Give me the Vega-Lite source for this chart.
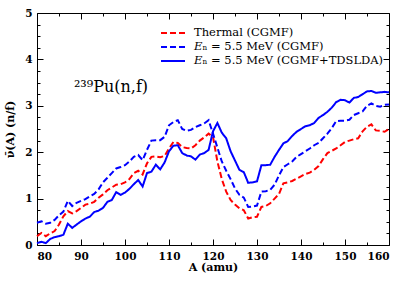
{
"$schema": "https://vega.github.io/schema/vega-lite/v6.json",
"width": 352, "height": 232,
"autosize": "none",
"padding": {"left": 37, "top": 13, "right": 20, "bottom": 41},
"config": {
  "view": {"stroke": "black", "strokeWidth": 1},
  "font": "DejaVu Serif",
  "axis": {"domain": false, "grid": false, "tickColor": "black", "tickWidth": 1, "labelColor": "black", "labelFont": "DejaVu Serif", "labelFontSize": 10.5, "labelFontWeight": "bold", "titleFont": "DejaVu Serif", "titleFontSize": 11, "titleFontWeight": "bold", "titleColor": "black"}
},
"datasets": {
"main": [
{"s":"T","A":80,"v":0.19},{"s":"T","A":81,"v":0.26},{"s":"T","A":82,"v":0.19},{"s":"T","A":83,"v":0.25},{"s":"T","A":84,"v":0.30},{"s":"T","A":85,"v":0.44},{"s":"T","A":86,"v":0.62},{"s":"T","A":87,"v":0.73},{"s":"T","A":88,"v":0.68},{"s":"T","A":89,"v":0.73},
{"s":"T","A":90,"v":0.80},{"s":"T","A":91,"v":0.87},{"s":"T","A":92,"v":0.89},{"s":"T","A":93,"v":0.93},{"s":"T","A":94,"v":1.02},{"s":"T","A":95,"v":1.09},{"s":"T","A":96,"v":1.18},{"s":"T","A":97,"v":1.24},{"s":"T","A":98,"v":1.30},{"s":"T","A":99,"v":1.31},
{"s":"T","A":100,"v":1.35},{"s":"T","A":101,"v":1.42},{"s":"T","A":102,"v":1.55},{"s":"T","A":103,"v":1.60},{"s":"T","A":104,"v":1.52},{"s":"T","A":105,"v":1.76},{"s":"T","A":106,"v":1.90},{"s":"T","A":107,"v":1.91},{"s":"T","A":108,"v":1.89},{"s":"T","A":109,"v":1.92},
{"s":"T","A":110,"v":2.08},{"s":"T","A":111,"v":2.22},{"s":"T","A":112,"v":2.20},{"s":"T","A":113,"v":2.11},{"s":"T","A":114,"v":2.09},{"s":"T","A":115,"v":2.08},{"s":"T","A":116,"v":2.15},{"s":"T","A":117,"v":2.25},{"s":"T","A":118,"v":2.32},{"s":"T","A":119,"v":2.40},
{"s":"T","A":120,"v":2.33},{"s":"T","A":121,"v":1.80},{"s":"T","A":122,"v":1.42},{"s":"T","A":123,"v":1.15},{"s":"T","A":124,"v":0.97},{"s":"T","A":125,"v":0.87},{"s":"T","A":126,"v":0.79},{"s":"T","A":127,"v":0.75},{"s":"T","A":128,"v":0.57},{"s":"T","A":129,"v":0.60},
{"s":"T","A":130,"v":0.61},{"s":"T","A":131,"v":0.82},{"s":"T","A":132,"v":0.84},{"s":"T","A":133,"v":0.90},{"s":"T","A":134,"v":1.00},{"s":"T","A":135,"v":1.10},{"s":"T","A":136,"v":1.33},{"s":"T","A":137,"v":1.35},{"s":"T","A":138,"v":1.38},{"s":"T","A":139,"v":1.43},
{"s":"T","A":140,"v":1.48},{"s":"T","A":141,"v":1.53},{"s":"T","A":142,"v":1.56},{"s":"T","A":143,"v":1.62},{"s":"T","A":144,"v":1.70},{"s":"T","A":145,"v":1.85},{"s":"T","A":146,"v":1.98},{"s":"T","A":147,"v":2.03},{"s":"T","A":148,"v":2.08},{"s":"T","A":149,"v":2.15},
{"s":"T","A":150,"v":2.22},{"s":"T","A":151,"v":2.25},{"s":"T","A":152,"v":2.28},{"s":"T","A":153,"v":2.30},{"s":"T","A":154,"v":2.45},{"s":"T","A":155,"v":2.55},{"s":"T","A":156,"v":2.60},{"s":"T","A":157,"v":2.47},{"s":"T","A":158,"v":2.46},{"s":"T","A":159,"v":2.44},{"s":"T","A":160,"v":2.50},
{"s":"C","A":80,"v":0.48},{"s":"C","A":81,"v":0.51},{"s":"C","A":82,"v":0.46},{"s":"C","A":83,"v":0.48},{"s":"C","A":84,"v":0.54},{"s":"C","A":85,"v":0.64},{"s":"C","A":86,"v":0.72},{"s":"C","A":87,"v":0.95},{"s":"C","A":88,"v":0.84},{"s":"C","A":89,"v":0.91},
{"s":"C","A":90,"v":0.95},{"s":"C","A":91,"v":0.99},{"s":"C","A":92,"v":1.05},{"s":"C","A":93,"v":1.10},{"s":"C","A":94,"v":1.20},{"s":"C","A":95,"v":1.35},{"s":"C","A":96,"v":1.45},{"s":"C","A":97,"v":1.55},{"s":"C","A":98,"v":1.65},{"s":"C","A":99,"v":1.68},
{"s":"C","A":100,"v":1.72},{"s":"C","A":101,"v":1.80},{"s":"C","A":102,"v":1.90},{"s":"C","A":103,"v":1.94},{"s":"C","A":104,"v":1.83},{"s":"C","A":105,"v":2.05},{"s":"C","A":106,"v":2.25},{"s":"C","A":107,"v":2.26},{"s":"C","A":108,"v":2.26},{"s":"C","A":109,"v":2.33},
{"s":"C","A":110,"v":2.58},{"s":"C","A":111,"v":2.65},{"s":"C","A":112,"v":2.69},{"s":"C","A":113,"v":2.50},{"s":"C","A":114,"v":2.46},{"s":"C","A":115,"v":2.48},{"s":"C","A":116,"v":2.54},{"s":"C","A":117,"v":2.58},{"s":"C","A":118,"v":2.62},{"s":"C","A":119,"v":2.69},
{"s":"C","A":120,"v":2.40},{"s":"C","A":121,"v":2.10},{"s":"C","A":122,"v":1.80},{"s":"C","A":123,"v":1.60},{"s":"C","A":124,"v":1.42},{"s":"C","A":125,"v":1.22},{"s":"C","A":126,"v":1.08},{"s":"C","A":127,"v":1.02},{"s":"C","A":128,"v":0.82},{"s":"C","A":129,"v":0.83},
{"s":"C","A":130,"v":0.85},{"s":"C","A":131,"v":1.15},{"s":"C","A":132,"v":1.16},{"s":"C","A":133,"v":1.19},{"s":"C","A":134,"v":1.30},{"s":"C","A":135,"v":1.50},{"s":"C","A":136,"v":1.68},{"s":"C","A":137,"v":1.74},{"s":"C","A":138,"v":1.80},{"s":"C","A":139,"v":1.90},
{"s":"C","A":140,"v":1.96},{"s":"C","A":141,"v":2.02},{"s":"C","A":142,"v":2.08},{"s":"C","A":143,"v":2.15},{"s":"C","A":144,"v":2.20},{"s":"C","A":145,"v":2.30},{"s":"C","A":146,"v":2.40},{"s":"C","A":147,"v":2.52},{"s":"C","A":148,"v":2.67},{"s":"C","A":149,"v":2.68},
{"s":"C","A":150,"v":2.68},{"s":"C","A":151,"v":2.70},{"s":"C","A":152,"v":2.80},{"s":"C","A":153,"v":2.84},{"s":"C","A":154,"v":2.88},{"s":"C","A":155,"v":3.00},{"s":"C","A":156,"v":3.05},{"s":"C","A":157,"v":3.00},{"s":"C","A":158,"v":2.98},{"s":"C","A":159,"v":3.02},{"s":"C","A":160,"v":3.03},
{"s":"D","A":80,"v":0.04},{"s":"D","A":81,"v":0.07},{"s":"D","A":82,"v":0.04},{"s":"D","A":83,"v":0.13},{"s":"D","A":84,"v":0.17},{"s":"D","A":85,"v":0.19},{"s":"D","A":86,"v":0.22},{"s":"D","A":87,"v":0.46},{"s":"D","A":88,"v":0.37},{"s":"D","A":89,"v":0.44},
{"s":"D","A":90,"v":0.51},{"s":"D","A":91,"v":0.57},{"s":"D","A":92,"v":0.61},{"s":"D","A":93,"v":0.71},{"s":"D","A":94,"v":0.74},{"s":"D","A":95,"v":0.80},{"s":"D","A":96,"v":0.93},{"s":"D","A":97,"v":0.97},{"s":"D","A":98,"v":1.14},{"s":"D","A":99,"v":1.08},
{"s":"D","A":100,"v":1.13},{"s":"D","A":101,"v":1.21},{"s":"D","A":102,"v":1.31},{"s":"D","A":103,"v":1.40},{"s":"D","A":104,"v":1.26},{"s":"D","A":105,"v":1.55},{"s":"D","A":106,"v":1.58},{"s":"D","A":107,"v":1.73},{"s":"D","A":108,"v":1.63},{"s":"D","A":109,"v":1.78},
{"s":"D","A":110,"v":2.02},{"s":"D","A":111,"v":2.14},{"s":"D","A":112,"v":2.15},{"s":"D","A":113,"v":1.98},{"s":"D","A":114,"v":1.93},{"s":"D","A":115,"v":1.91},{"s":"D","A":116,"v":1.84},{"s":"D","A":117,"v":1.95},{"s":"D","A":118,"v":1.98},{"s":"D","A":119,"v":2.05},
{"s":"D","A":120,"v":2.45},{"s":"D","A":121,"v":2.63},{"s":"D","A":122,"v":2.42},{"s":"D","A":123,"v":2.30},{"s":"D","A":124,"v":2.02},{"s":"D","A":125,"v":1.82},{"s":"D","A":126,"v":1.62},{"s":"D","A":127,"v":1.57},{"s":"D","A":128,"v":1.34},{"s":"D","A":129,"v":1.35},
{"s":"D","A":130,"v":1.37},{"s":"D","A":131,"v":1.72},{"s":"D","A":132,"v":1.72},{"s":"D","A":133,"v":1.73},{"s":"D","A":134,"v":1.90},{"s":"D","A":135,"v":2.05},{"s":"D","A":136,"v":2.19},{"s":"D","A":137,"v":2.24},{"s":"D","A":138,"v":2.35},{"s":"D","A":139,"v":2.44},
{"s":"D","A":140,"v":2.50},{"s":"D","A":141,"v":2.56},{"s":"D","A":142,"v":2.58},{"s":"D","A":143,"v":2.63},{"s":"D","A":144,"v":2.74},{"s":"D","A":145,"v":2.80},{"s":"D","A":146,"v":2.87},{"s":"D","A":147,"v":2.96},{"s":"D","A":148,"v":3.08},{"s":"D","A":149,"v":3.13},
{"s":"D","A":150,"v":3.12},{"s":"D","A":151,"v":3.07},{"s":"D","A":152,"v":3.17},{"s":"D","A":153,"v":3.19},{"s":"D","A":154,"v":3.25},{"s":"D","A":155,"v":3.31},{"s":"D","A":156,"v":3.32},{"s":"D","A":157,"v":3.28},{"s":"D","A":158,"v":3.29},{"s":"D","A":159,"v":3.30},{"s":"D","A":160,"v":3.29}
],
"ann": [{"A": 88.4, "v": 3.3, "label": "²³⁹Pu(n,f)"}]
},
"resolve": {"axis": {"x": "independent", "y": "independent"}},
"layer": [
 {
  "data": {"name": "main"},
  "mark": {"type": "line", "strokeWidth": 2},
  "encoding": {
   "x": {"field": "A", "type": "quantitative", "scale": {"domain": [80, 160], "nice": false, "zero": false},
         "axis": {"orient": "bottom", "values": [80,90,100,110,120,130,140,150,160], "tickSize": -6, "labelPadding": 12, "title": "A (amu)", "titlePadding": 0}},
   "y": {"field": "v", "type": "quantitative", "scale": {"domain": [0, 5], "nice": false, "zero": false},
         "axis": {"orient": "left", "values": [0,1,2,3,4,5], "tickSize": -6, "labelPadding": 11, "title": "ν̄(A) (n/f)", "titlePadding": 9}},
   "color": {"field": "s", "type": "nominal", "scale": {"domain": ["T","C","D"], "range": ["#ff0000","#0000ff","#0000ff"]},
     "legend": {"title": null, "orient": "none", "legendX": 129, "legendY": 13, "padding": 0, "symbolType": "M-2,0H2", "symbolSize": 144, "symbolStrokeWidth": 2, "symbolFillColor": "transparent", "labelFont": "DejaVu Serif", "labelFontSize": 11.5, "labelColor": "black", "labelOffset": 14, "rowPadding": 1, "labelLimit": 400,
       "labelExpr": "datum.value == 'T' ? 'Thermal (CGMF)' : datum.value == 'C' ? '𝐸ₙ = 5.5 MeV (CGMF)' : '𝐸ₙ = 5.5 MeV (CGMF+TDSLDA)'"}},
   "strokeDash": {"field": "s", "type": "nominal", "scale": {"domain": ["T","C","D"], "range": [[6,3],[6,3],[1,0]]},
     "legend": {"title": null, "orient": "none", "legendX": 129, "legendY": 13, "padding": 0, "symbolType": "M-2,0H2", "symbolSize": 144, "symbolStrokeWidth": 2, "symbolFillColor": "transparent", "labelFont": "DejaVu Serif", "labelFontSize": 11.5, "labelColor": "black", "labelOffset": 14, "rowPadding": 1, "labelLimit": 400,
       "labelExpr": "datum.value == 'T' ? 'Thermal (CGMF)' : datum.value == 'C' ? '𝐸ₙ = 5.5 MeV (CGMF)' : '𝐸ₙ = 5.5 MeV (CGMF+TDSLDA)'"}}
  }
 },
 {
  "data": {"name": "ann"},
  "mark": {"type": "text", "align": "left", "baseline": "alphabetic", "font": "DejaVu Serif", "fontSize": 16, "color": "black"},
  "encoding": {
   "x": {"field": "A", "type": "quantitative", "axis": {"orient": "top", "values": [80,90,100,110,120,130,140,150,160], "tickSize": -6, "labels": false, "title": null}},
   "y": {"field": "v", "type": "quantitative", "axis": {"orient": "right", "values": [0,1,2,3,4,5], "tickSize": -6, "labels": false, "title": null}},
   "text": {"field": "label"}
  }
 },
 {
  "data": {"name": "ann"},
  "mark": {"type": "point", "opacity": 0},
  "encoding": {
   "x": {"field": "A", "type": "quantitative", "axis": {"orient": "bottom", "values": [85,95,105,115,125,135,145,155], "tickSize": -3, "labels": false, "title": null}},
   "y": {"field": "v", "type": "quantitative", "axis": {"orient": "left", "values": [0.25,0.5,0.75,1.25,1.5,1.75,2.25,2.5,2.75,3.25,3.5,3.75,4.25,4.5,4.75], "tickSize": -3, "labels": false, "title": null}}
  }
 },
 {
  "data": {"name": "ann"},
  "mark": {"type": "point", "opacity": 0},
  "encoding": {
   "x": {"field": "A", "type": "quantitative", "axis": {"orient": "top", "values": [85,95,105,115,125,135,145,155], "tickSize": -3, "labels": false, "title": null}},
   "y": {"field": "v", "type": "quantitative", "axis": {"orient": "right", "values": [0.25,0.5,0.75,1.25,1.5,1.75,2.25,2.5,2.75,3.25,3.5,3.75,4.25,4.5,4.75], "tickSize": -3, "labels": false, "title": null}}
  }
 }
]
}
